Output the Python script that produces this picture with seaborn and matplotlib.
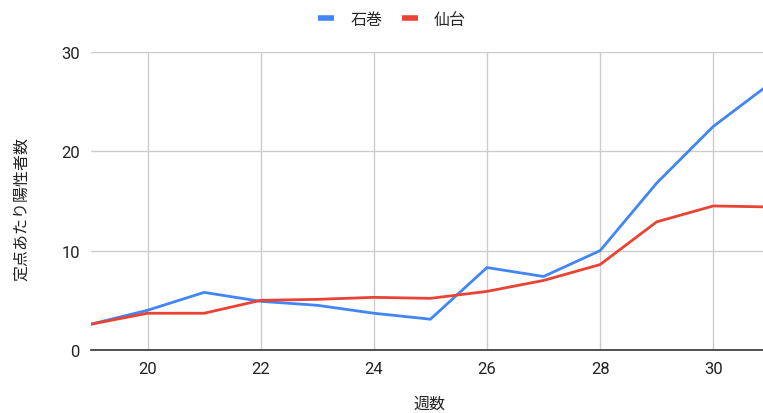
import matplotlib
matplotlib.use("Agg")
import matplotlib.pyplot as plt
import seaborn as sns
import pandas as pd
from matplotlib.lines import Line2D

weeks = [19, 20, 21, 22, 23, 24, 25, 26, 27, 28, 29, 30, 31]
ishinomaki = [2.6, 4.0, 5.8, 4.9, 4.5, 3.7, 3.1, 8.3, 7.4, 10.0, 16.8, 22.5, 26.8]
sendai = [2.6, 3.7, 3.7, 5.0, 5.1, 5.3, 5.2, 5.9, 7.0, 8.6, 12.9, 14.5, 14.4]
series_names = ["石巻", "仙台"]
colors = ["#4285F4", "#EA4335"]

df = pd.DataFrame({
    "週数": weeks * 2,
    "値": ishinomaki + sendai,
    "地域": [series_names[0]] * len(weeks) + [series_names[1]] * len(weeks),
})

sns.set_theme(style="white")
plt.rcParams["font.family"] = ["Noto Sans CJK JP", "DejaVu Sans"]

W, H = 763, 414
fig = plt.figure(figsize=(W / 100, H / 100), dpi=100)
ax = fig.add_axes([91 / W, 1 - 351 / H, 1 - 91 / W, (351 - 53) / H])

sns.lineplot(data=df, x="週数", y="値", hue="地域", palette=colors,
             linewidth=2, ax=ax, legend=False)

ax.set_xlim(19, 30.88)
ax.set_ylim(0, 30)
ax.set_xticks([20, 22, 24, 26, 28, 30])
ax.set_yticks([0, 10, 20, 30])
ax.grid(True, color="#cccccc", linewidth=1)
for s in ["top", "right", "left"]:
    ax.spines[s].set_visible(False)
ax.spines["bottom"].set_color("#333333")
ax.spines["bottom"].set_linewidth(1.2)
ax.tick_params(axis="both", length=0, labelsize=12, colors="#222222", pad=8)
for lab in ax.get_xticklabels() + ax.get_yticklabels():
    lab.set_fontfamily(["Roboto", "DejaVu Sans"])
ax.set_xlabel("")
ax.set_ylabel("")
fig.text(429 / W, 1 - 404 / H, "週数", ha="center", va="center",
         fontsize=11.5, color="#222222")
fig.text(22 / W, 1 - 209 / H, "定点あたり陽性者数", ha="center", va="center",
         rotation=90, fontsize=11.5, color="#222222")

handles = [Line2D([0], [0], color=c, linewidth=4, solid_capstyle="butt") for c in colors]
fig.legend(handles, series_names, loc="center", bbox_to_anchor=(392 / W, 1 - 20 / H),
           ncol=2, frameon=False, fontsize=11.5, handlelength=1.0,
           columnspacing=1.2, handletextpad=1.0)

fig.savefig("out.png", dpi=100)
